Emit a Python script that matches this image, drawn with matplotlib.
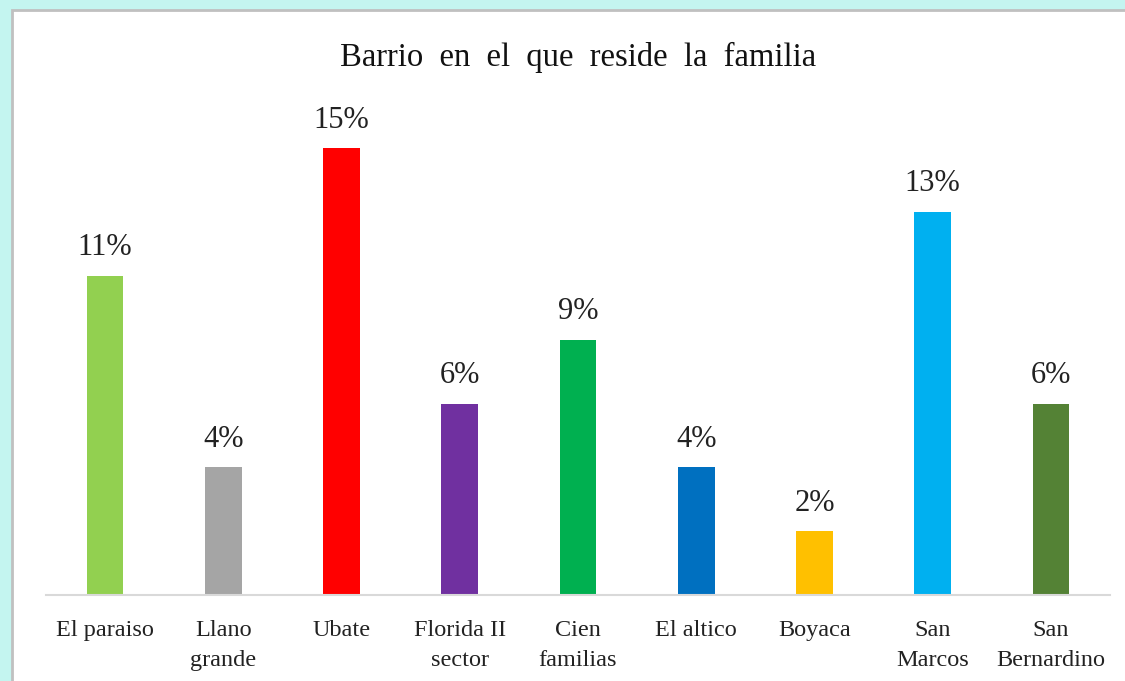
import matplotlib.pyplot as plt
from matplotlib.patches import Rectangle

# datos: familias por barrio (n = 47)
barrios = ['El paraiso', 'Llano\ngrande', 'Ubate', 'Florida II\nsector', 'Cien\nfamilias',
           'El altico', 'Boyaca', 'San\nMarcos', 'San\nBernardino']
porcentajes = [10.64, 4.26, 14.89, 6.38, 8.51, 4.26, 2.13, 12.77, 6.38]
colores = ['#92D050', '#A5A5A5', '#FF0000', '#7030A0', '#00B050',
           '#0070C0', '#FFC000', '#00B0F0', '#548235']

plt.rcParams['font.family'] = ['Liberation Serif', 'DejaVu Serif']

fig = plt.figure(figsize=(11.25, 6.81), dpi=100)
fig.patch.set_facecolor('#C4F5F0')

# panel blanco del grafico
W, H = 1125, 681
fig.patches.append(Rectangle((12 / W, -0.01), 1, 1.01 - 10 / H, transform=fig.transFigure,
                             facecolor='white', edgecolor='#C0C0C0', linewidth=2, zorder=-5))

ax = fig.add_axes([46 / W, (H - 595) / H, 1064 / W, 495 / H])
ax.set_facecolor('none')
ax.set_zorder(2)

x = range(len(barrios))
ax.bar(x, porcentajes, width=0.31, color=colores, zorder=2)

for i, v in enumerate(porcentajes):
    ax.text(i, v + 0.45, '{:.0f}%'.format(v), ha='center', va='bottom', fontsize=22, color='#222222')

ax.set_xlim(-0.5, len(barrios) - 0.5)
ax.set_ylim(0, 16.5)
ax.set_xticks(list(x))
ax.set_xticklabels(barrios, fontsize=17.5, linespacing=1.55, color='#222222')
ax.tick_params(axis='x', length=0, pad=18)
ax.set_yticks([])

for s in ['top', 'right', 'left']:
    ax.spines[s].set_visible(False)
ax.spines['bottom'].set_color('#D9D9D9')
ax.spines['bottom'].set_linewidth(1.5)

fig.text(578 / W, 1 - 57 / H, 'Barrio  en  el  que  reside  la  familia', ha='center', va='center',
         fontsize=23.5, color='#111111', zorder=3)

plt.savefig('out.png', dpi=100, facecolor=fig.get_facecolor())
